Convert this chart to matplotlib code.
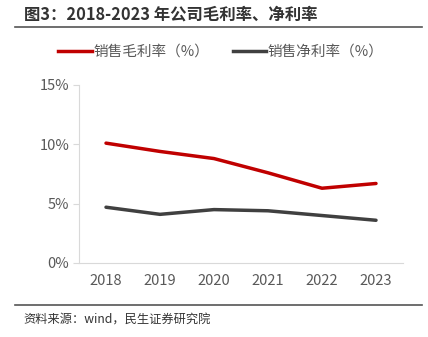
import matplotlib.pyplot as plt
from matplotlib.lines import Line2D

plt.rcParams['font.family'] = ['Noto Sans CJK SC', 'DejaVu Sans']

# Data
years = ["2018", "2019", "2020", "2021", "2022", "2023"]
gross_margin = [10.1, 9.4, 8.8, 7.6, 6.3, 6.7]
net_margin = [4.7, 4.1, 4.5, 4.4, 4.0, 3.6]

red = "#C00000"
dark = "#404040"
tick_color = "#595959"

fig = plt.figure(figsize=(4.28, 3.37), dpi=100)
ax = fig.add_axes([0.1846, 0.2196, 0.757, 0.5282])

x = [i + 0.5 for i in range(len(years))]
ax.plot(x, gross_margin, color=red, lw=2.5, solid_capstyle="round")
ax.plot(x, net_margin, color=dark, lw=2.5, solid_capstyle="round")

ax.set_xlim(0, 6)
ax.set_ylim(0, 15)
ax.set_xticks(x)
ax.set_xticklabels(years)
ax.set_yticks([0, 5, 10, 15])
ax.set_yticklabels(["0%", "5%", "10%", "15%"])
ax.tick_params(axis="x", length=0, pad=8, labelsize=10.5, colors=tick_color)
ax.tick_params(axis="y", length=4, width=0.8, color="#D9D9D9", pad=3,
               labelsize=10.5, labelcolor=tick_color)
for s in ["top", "right"]:
    ax.spines[s].set_visible(False)
for s in ["left", "bottom"]:
    ax.spines[s].set_color("#D9D9D9")
    ax.spines[s].set_linewidth(0.8)

# Title and rules
fig.text(24 / 428, 1 - 15 / 337, "图3：2018-2023 年公司毛利率、净利率", fontsize=11.8,
         fontweight="bold", color="#333333", va="center", ha="left")
fig.add_artist(Line2D([15 / 428, 422 / 428], [1 - 27 / 337] * 2, color="#555555", lw=1.2))
fig.add_artist(Line2D([15 / 428, 422 / 428], [1 - 305 / 337] * 2, color="#555555", lw=1.2))
fig.text(23 / 428, 1 - 320 / 337, "资料来源：wind，民生证券研究院", fontsize=8.8,
         color="#333333", va="center", ha="left")

# Legend
handles = [Line2D([], [], color=red, lw=2.5), Line2D([], [], color=dark, lw=2.5)]
fig.legend(handles, ["销售毛利率（%）", "销售净利率（%）"], loc="center",
           bbox_to_anchor=(0.516, 1 - 52 / 337), ncol=2, frameon=False,
           fontsize=10.5, handlelength=2.3, handletextpad=0.1, columnspacing=1.6,
           labelcolor="#595959")

plt.savefig("out.png", dpi=100)
